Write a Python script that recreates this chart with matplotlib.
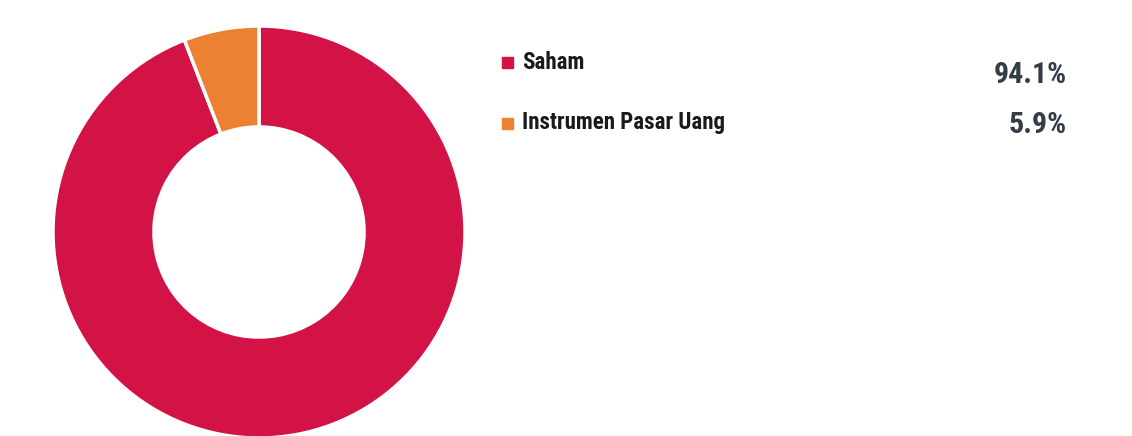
import matplotlib
matplotlib.use("Agg")
import matplotlib.pyplot as plt
from matplotlib.patches import Rectangle
from matplotlib import font_manager

labels = ["Saham", "Instrumen Pasar Uang"]
values = [94.1, 5.9]
value_labels = ["94.1%", "5.9%"]
colors = ["#D31245", "#ED8133"]

W, H = 1132, 436
fig = plt.figure(figsize=(W / 100, H / 100), dpi=100)

names = {f.name for f in font_manager.fontManager.ttflist}
fam = "Roboto"
condensed = False
for cand in ["Roboto Condensed", "Open Sans Condensed", "Liberation Sans Narrow",
             "DejaVu Sans Condensed"]:
    if cand in names:
        fam = cand
        condensed = True
        break
lab_size = 16.5 if condensed else 15.3
val_size = 21.5 if condensed else 19.8

cx, cy, r = 259, 232, 206
ax = fig.add_axes([(cx - r) / W, (H - cy - r) / H, 2 * r / W, 2 * r / H])
ax.pie(values, colors=colors, startangle=90, counterclock=False,
       radius=1, wedgeprops=dict(width=0.49, edgecolor="white", linewidth=2.5))
ax.set_xlim(-1, 1)
ax.set_ylim(-1, 1)
ax.set_axis_off()

def fx(x):
    return x / W

def fy(y):
    return 1 - y / H

label_base = [69, 129]
value_base = [83, 133]
sq_top = [57, 118]
for i, lab in enumerate(labels):
    fig.patches.append(Rectangle((fx(502), fy(sq_top[i] + 11)), 11 / W, 11 / H,
                                 transform=fig.transFigure, color=colors[i]))
    fig.text(fx(522), fy(label_base[i]), lab, fontsize=lab_size, fontweight="bold",
             family=fam, color="#1a1a1a", ha="left", va="baseline")
    fig.text(fx(1067), fy(value_base[i]), value_labels[i], fontsize=val_size,
             fontweight="bold", family=fam, color="#333D47", ha="right",
             va="baseline")

fig.savefig("out.png", dpi=100)
